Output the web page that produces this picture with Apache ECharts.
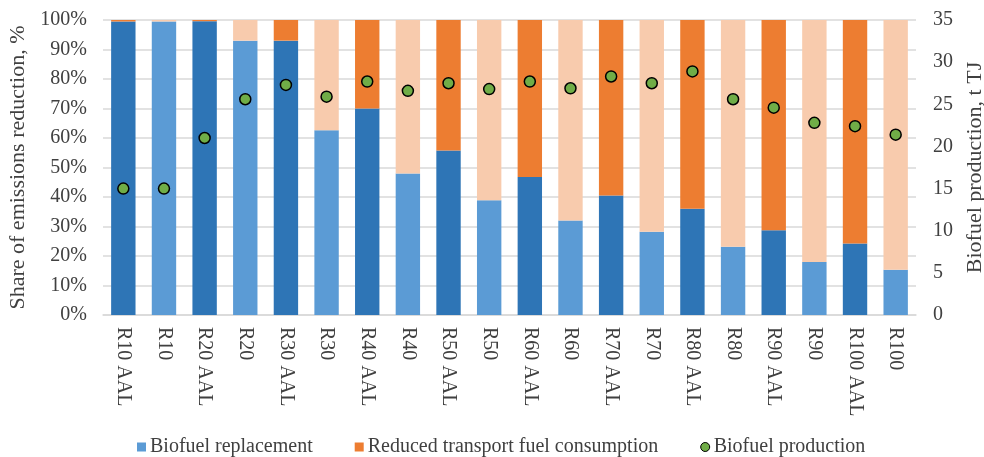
<!DOCTYPE html>
<html>
<head>
<meta charset="utf-8">
<script src="https://cdn.jsdelivr.net/npm/echarts@6/dist/echarts.min.js"></script>
<style>
  html, body { margin: 0; padding: 0; background: #fff; }
  #chart { width: 984px; height: 457px; }
</style>
</head>
<body>
<div id="chart"></div>
<script>
// Scenario names (AAL variants alternate with the plain runs)
const categories = [
  'R10 AAL', 'R10', 'R20 AAL', 'R20', 'R30 AAL', 'R30', 'R40 AAL', 'R40',
  'R50 AAL', 'R50', 'R60 AAL', 'R60', 'R70 AAL', 'R70', 'R80 AAL', 'R80',
  'R90 AAL', 'R90', 'R100 AAL', 'R100'
];

// Share of emissions reduction, %
const biofuelReplacement = [
  99.5, 99.5, 99.6, 93.0, 93.0, 62.6, 70.0, 48.0, 55.8, 38.9,
  46.8, 32.0, 40.5, 28.2, 36.0, 23.1, 28.7, 18.0, 24.2, 15.3
];
const reducedConsumption = [
  0.5, 0.5, 0.4, 7.0, 7.0, 37.4, 30.0, 52.0, 44.2, 61.1,
  53.2, 68.0, 59.5, 71.8, 64.0, 76.9, 71.3, 82.0, 75.8, 84.7
];

// Biofuel production, t TJ
const biofuelProduction = [
  15.0, 15.0, 21.0, 25.6, 27.3, 25.9, 27.7, 26.6, 27.5, 26.8,
  27.7, 26.9, 28.3, 27.5, 28.9, 25.6, 24.6, 22.8, 22.4, 21.4
];

const leftTicks = { min: 0, max: 100, interval: 10 };
const rightTicks = { min: 0, max: 35, interval: 5 };

const FONT = '"Liberation Serif", "Times New Roman", serif';
const TEXT = '#404040';
const colors = {
  replAAL: '#2E75B6', repl: '#5B9BD5',
  redAAL: '#ED7D31', red: '#F8CBAD',
  prod: '#70AD47'
};

const isAAL = name => name.indexOf('AAL') >= 0;

const replData = biofuelReplacement.map((v, i) => ({
  value: v,
  itemStyle: { color: isAAL(categories[i]) ? colors.replAAL : colors.repl }
}));
const redData = reducedConsumption.map((v, i) => ({
  value: v,
  itemStyle: { color: isAAL(categories[i]) ? colors.redAAL : colors.red }
}));

const chart = echarts.init(document.getElementById('chart'), null, { renderer: 'canvas' });

chart.setOption({
  animation: false,
  backgroundColor: '#fff',
  textStyle: { fontFamily: FONT },
  grid: {
    left: 103, right: 68, top: 20, bottom: 142,
    containLabel: false,
    outerBoundsMode: 'none'
  },
  legend: {
    left: 137,
    top: 437,
    padding: 0,
    itemGap: 42,
    itemWidth: 9,
    itemHeight: 9,
    textStyle: { fontFamily: FONT, fontSize: 20, color: TEXT, padding: [0, 0, 0, -1] },
    data: [
      { name: 'Biofuel replacement', icon: 'rect' },
      { name: 'Reduced transport fuel consumption', icon: 'rect' },
      { name: 'Biofuel production', icon: 'circle', itemStyle: { borderColor: '#000', borderWidth: 1 } }
    ]
  },
  xAxis: {
    type: 'category',
    data: categories,
    axisLine: { lineStyle: { color: '#D9D9D9', width: 1.5 } },
    axisTick: { show: false },
    axisLabel: {
      rotate: -90,
      interval: 0,
      margin: 12,
      fontFamily: FONT,
      fontSize: 20,
      color: TEXT
    }
  },
  yAxis: [
    {
      type: 'value',
      min: leftTicks.min, max: leftTicks.max, interval: leftTicks.interval,
      name: 'Share of emissions reduction, %',
      nameLocation: 'middle',
      nameRotate: 90,
      nameGap: 69,
      nameTextStyle: { fontFamily: FONT, fontSize: 22, color: TEXT },
      axisLine: { show: false },
      axisTick: { show: false },
      axisLabel: { formatter: '{value}%', fontFamily: FONT, fontSize: 20, color: TEXT, margin: 16 },
      splitLine: { lineStyle: { color: '#D9D9D9', width: 1.5 } }
    },
    {
      type: 'value',
      position: 'right',
      min: rightTicks.min, max: rightTicks.max, interval: rightTicks.interval,
      name: 'Biofuel production, t TJ',
      nameLocation: 'middle',
      nameRotate: 90,
      nameGap: 44,
      nameTextStyle: { fontFamily: FONT, fontSize: 22, color: TEXT },
      axisLine: { show: false },
      axisTick: { show: false },
      axisLabel: { fontFamily: FONT, fontSize: 20, color: TEXT, margin: 17 },
      splitLine: { show: false }
    }
  ],
  series: [
    {
      name: 'Biofuel replacement',
      type: 'bar',
      stack: 'share',
      barCategoryGap: '40%',
      itemStyle: { color: colors.repl },
      data: replData
    },
    {
      name: 'Reduced transport fuel consumption',
      type: 'bar',
      stack: 'share',
      barCategoryGap: '40%',
      itemStyle: { color: colors.redAAL },
      data: redData
    },
    {
      name: 'Biofuel production',
      type: 'scatter',
      yAxisIndex: 1,
      symbol: 'circle',
      symbolSize: 11,
      itemStyle: { color: colors.prod, borderColor: '#000', borderWidth: 1.5, opacity: 1 },
      data: biofuelProduction,
      z: 5
    }
  ]
});
</script>
</body>
</html>
